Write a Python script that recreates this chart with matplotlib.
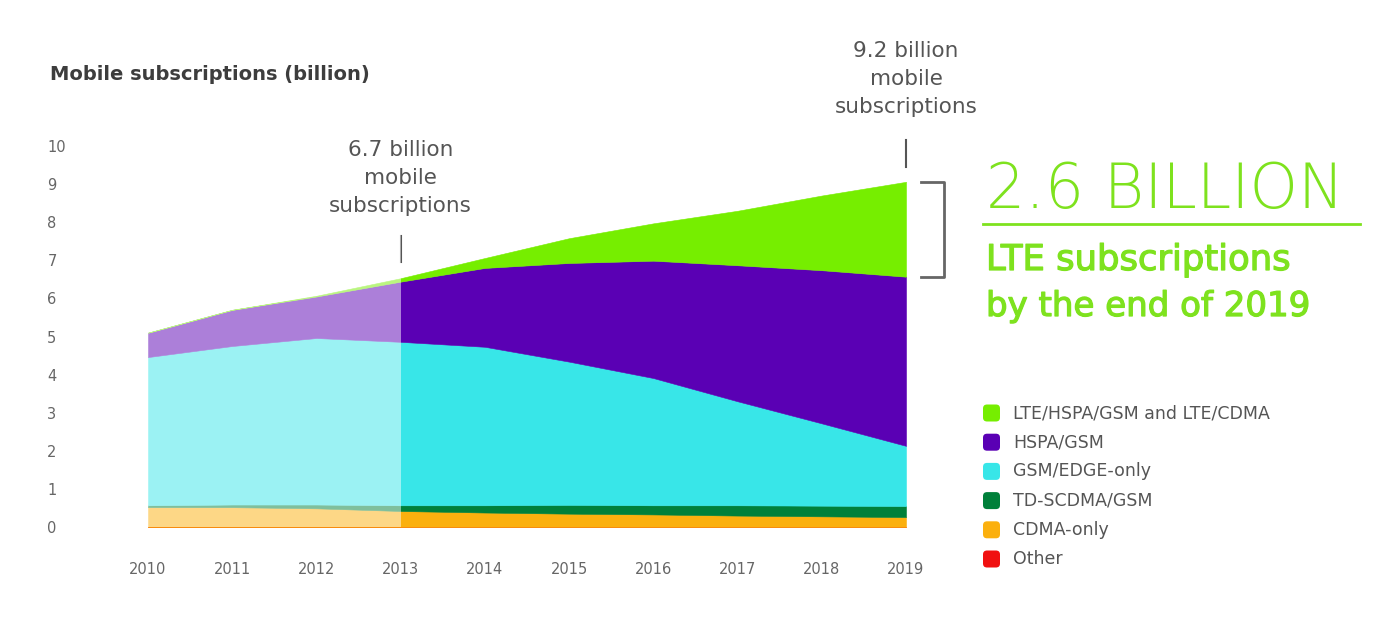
import numpy as np
import matplotlib
matplotlib.use("Agg")
import matplotlib.pyplot as plt
from matplotlib.patches import FancyBboxPatch
from matplotlib.lines import Line2D
import matplotlib.transforms as mtransforms
import matplotlib.patheffects as pe

plt.rcParams['font.family'] = ['DejaVu Sans']

# ---------------- data ----------------
years = [2010, 2011, 2012, 2013, 2014, 2015, 2016, 2017, 2018, 2019]
other = [0.0, 0.0, 0.0, 0.0, 0.0, 0.0, 0.0, 0.0, 0.0, 0.0]
cdma_only = [0.52, 0.52, 0.49, 0.42, 0.38, 0.35, 0.33, 0.30, 0.28, 0.26]
td_scdma = [0.05, 0.07, 0.10, 0.15, 0.19, 0.23, 0.24, 0.27, 0.28, 0.29]
gsm_edge = [3.89, 4.16, 4.37, 4.29, 4.16, 3.76, 3.34, 2.73, 2.16, 1.58]
hspa_gsm = [0.64, 0.95, 1.09, 1.58, 2.07, 2.59, 3.08, 3.57, 4.02, 4.44]
lte = [0.00, 0.00, 0.02, 0.09, 0.26, 0.65, 0.98, 1.43, 1.96, 2.49]

series_labels = ["LTE/HSPA/GSM and LTE/CDMA", "HSPA/GSM", "GSM/EDGE-only",
                 "TD-SCDMA/GSM", "CDMA-only", "Other"]
series_colors = ["#76ee00", "#5a00b4", "#38e6e8", "#00803a", "#fbb00e", "#f01010"]
y_ticks = [0, 1, 2, 3, 4, 5, 6, 7, 8, 9, 10]
faded_until = 2013

# ---------------- figure ----------------
W, H = 1400, 627
fig = plt.figure(figsize=(W / 100, H / 100), dpi=100)
ax = fig.add_axes([148 / W, 1 - 527 / H, (906 - 148) / W, (527 - 146) / H])

stack_data = [other, cdma_only, td_scdma, gsm_edge, hspa_gsm, lte]
stack_colors = [series_colors[5], series_colors[4], series_colors[3],
                series_colors[2], series_colors[1], series_colors[0]]
polys = ax.stackplot(years, *stack_data, colors=stack_colors)
for p, c in zip(polys, stack_colors):
    p.set_edgecolor(c)
    p.set_linewidth(0.4)

# faded past (before 2013)
ax.axvspan(years[0], faded_until, facecolor="white", alpha=0.5, lw=0, zorder=3)

ax.set_xlim(years[0], years[-1])
ax.set_ylim(0, 10)
for s in ax.spines.values():
    s.set_visible(False)

ax.set_xticks(years)
ax.set_xticklabels([str(y) for y in years])
ax.set_yticks(y_ticks)
ax.set_yticklabels([str(v) for v in y_ticks])
ax.tick_params(axis='x', length=0, pad=25, labelsize=10.5, labelcolor="#666666")
ax.tick_params(axis='y', length=0, pad=72.5, labelsize=10.5, labelcolor="#666666")
for lab in ax.get_yticklabels():
    lab.set_horizontalalignment('left')

# title
fig.text(50 / W, 1 - 74 / H, "Mobile subscriptions (billion)", fontsize=14,
         color="#3d3d3d", va="center", ha="left", fontweight="bold")

# annotations
totals = np.sum(np.array(stack_data), axis=0)
hspa_top = totals - np.array(lte)
blend = mtransforms.blended_transform_factory(ax.transData, fig.transFigure)
ax.text(years[3], 1 - 178 / H, "6.7 billion\nmobile\nsubscriptions", transform=blend,
        ha="center", va="center", fontsize=15.5, color="#555555", linespacing=1.5)
ax.text(years[-1], 1 - 79 / H, "9.2 billion\nmobile\nsubscriptions", transform=blend,
        ha="center", va="center", fontsize=15.5, color="#555555", linespacing=1.5)
ax.plot([years[3], years[3]], [6.96, 7.64], color="#555555", lw=1.5, clip_on=False)
ax.plot([years[-1], years[-1]], [9.45, 10.16], color="#555555", lw=1.5, clip_on=False)

# bracket for LTE at 2019
x0 = years[-1] + 15 / 84.2
x1 = years[-1] + 38 / 84.2
ax.plot([x0, x1, x1, x0], [totals[-1], totals[-1], hspa_top[-1], hspa_top[-1]],
        color="#666666", lw=2, clip_on=False, solid_joinstyle="round")

# green highlight text
green = "#7ee21e"
medium = [pe.withStroke(linewidth=0.9, foreground=green)]
fig.text(986 / W, 1 - 208 / H, "2.6 BILLION", fontsize=44.5, color=green,
         fontweight="light", ha="left", va="baseline")
fig.add_artist(Line2D([983 / W, 1360 / W], [1 - 224 / H, 1 - 224 / H], color=green, lw=2))
fig.text(986 / W, 1 - 270 / H, "LTE subscriptions", fontsize=25.5, color=green,
         ha="left", va="baseline", path_effects=medium)
fig.text(986 / W, 1 - 316 / H, "by the end of 2019", fontsize=24.5, color=green,
         ha="left", va="baseline", path_effects=medium)

# legend
ident = mtransforms.IdentityTransform()
for i, (lab, col) in enumerate(zip(series_labels, series_colors)):
    yc = 413 + i * 29.2
    box = FancyBboxPatch((983, H - yc - 8.5), 17, 17,
                         boxstyle="round,pad=0,rounding_size=4",
                         transform=ident, facecolor=col, edgecolor="none")
    fig.add_artist(box)
    fig.text(1013 / W, 1 - yc / H, lab, fontsize=12.5, color="#555555",
             ha="left", va="center")

fig.savefig("out.png", dpi=100, facecolor="white")
